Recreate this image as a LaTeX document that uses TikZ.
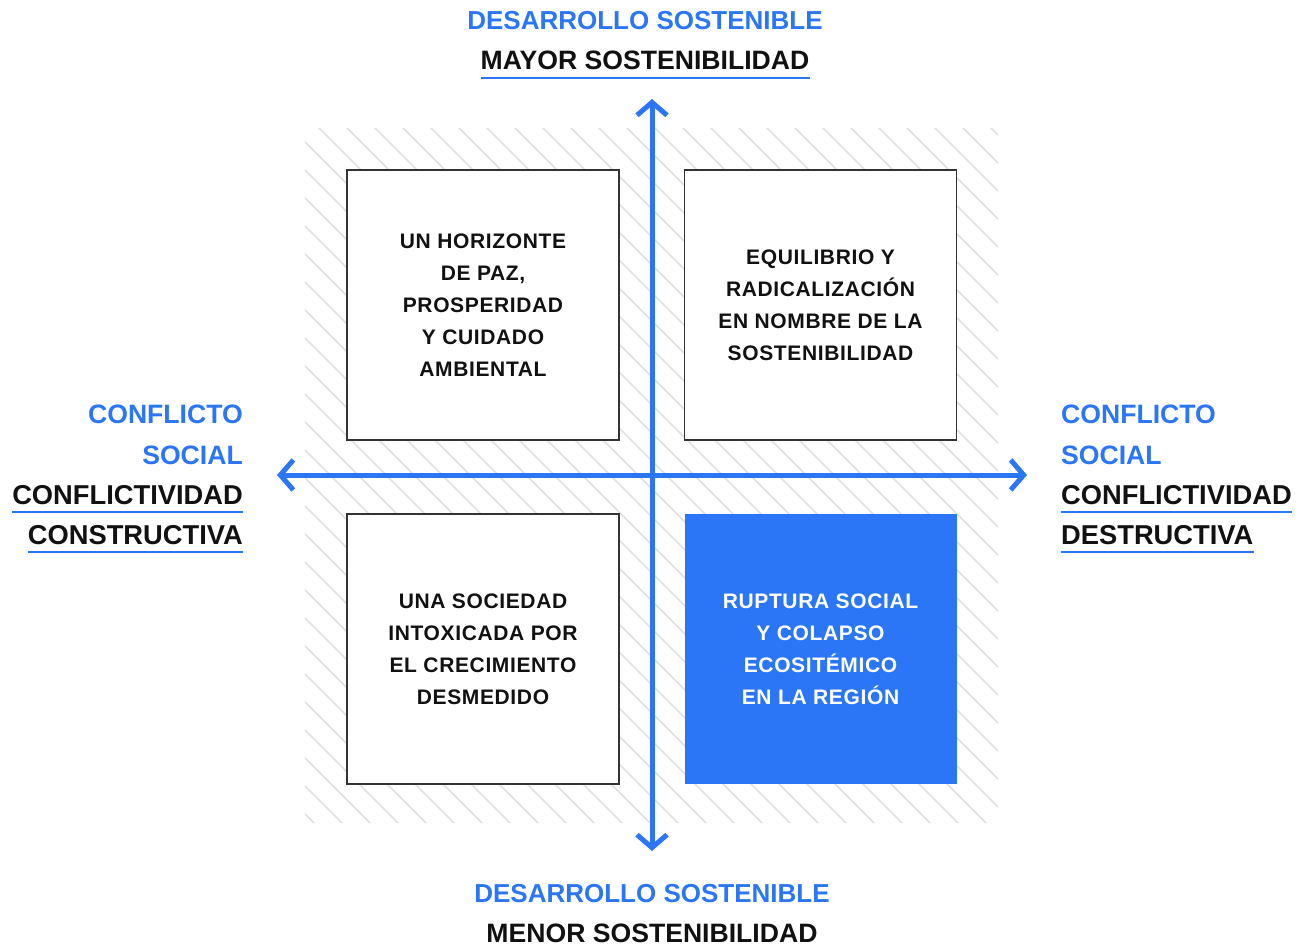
\documentclass[tikz,border=0pt]{standalone}
\usepackage{fontspec}
\setmainfont{Liberation Sans}
\usetikzlibrary{arrows.meta}
\definecolor{axblue}{RGB}{42,118,246}
\definecolor{hatchgray}{RGB}{224,224,224}
\definecolor{ink}{RGB}{17,17,17}
\definecolor{boxedge}{RGB}{51,51,51}
\begin{document}
\begin{tikzpicture}[x=1pt,y=-1pt,
  axisline/.style={draw=axblue,line width=5pt,line join=miter,
    {Straight Barb[length=13pt,width=30pt]}-{Straight Barb[length=13pt,width=30pt]}},
  hatchline/.style={draw=hatchgray,line width=1.5pt},
  quad/.style={draw=boxedge,line width=1.5pt,fill=white,minimum width=272pt,minimum height=270pt,
    inner sep=0pt,align=center,text=ink,font=\bfseries\fontsize{21}{32}\selectfont\addfontfeatures{LetterSpace=3}},
  quadblue/.style={quad,draw=none,fill=axblue,text=white},
  bluelbl/.style={inner sep=0pt,text=axblue,font=\bfseries\fontsize{26}{30}\selectfont},
  blacklbl/.style={inner sep=0pt,text=ink,font=\bfseries\fontsize{26.6}{30}\selectfont},
  sideblue/.style={bluelbl,font=\bfseries\fontsize{26.6}{30}\selectfont},
  sideblack/.style={blacklbl,font=\bfseries\fontsize{27.3}{30}\selectfont},
  uline/.style={draw=axblue,line width=1.3pt}
]
\useasboundingbox (0,0) rectangle (1307,947);
% hatching
\begin{scope}
  \clip (305,129) rectangle (998,822);
  \foreach \k in {-30,...,30} {
    \draw[hatchline] (120+28*\k,-71) -- ++(1000,1000);
  }
\end{scope}
% axes
\coordinate (vtop) at (652,99);
\coordinate (vbot) at (652,851);
\coordinate (hleft) at (277,475);
\coordinate (hright) at (1027,475);
\draw[axisline] (vbot) -- (vtop);
\draw[axisline] (hleft) -- (hright);
% quadrants
\node[quad] (tl) at (483,305) {UN HORIZONTE\\DE PAZ,\\PROSPERIDAD\\Y CUIDADO\\AMBIENTAL};
\node[quad] (tr) at (820.5,305) {EQUILIBRIO Y\\RADICALIZACIÓN\\EN NOMBRE DE LA\\SOSTENIBILIDAD};
\node[quad] (bl) at (483,649) {UNA SOCIEDAD\\INTOXICADA POR\\EL CRECIMIENTO\\DESMEDIDO};
\node[quadblue] (br) at (820.5,649) {RUPTURA SOCIAL\\Y COLAPSO\\ECOSITÉMICO\\EN LA REGIÓN};
% top labels
\node[bluelbl,anchor=base] (t1) at (645,30) {DESARROLLO SOSTENIBLE};
\node[blacklbl,anchor=base] (t2) at (645,70) {MAYOR SOSTENIBILIDAD};
\draw[uline] ([yshift=-8pt]t2.base west) -- ([yshift=-8pt]t2.base east);
% bottom labels
\node[bluelbl,anchor=base] (b1) at (652,902) {DESARROLLO SOSTENIBLE};
\node[blacklbl,anchor=base] (b2) at (652,942) {MENOR SOSTENIBILIDAD};
% left labels
\node[sideblue,anchor=base east] (l1) at (243,423) {CONFLICTO};
\node[sideblue,anchor=base east] (l2) at (243,464) {SOCIAL};
\node[sideblack,anchor=base east] (l3) at (243,504) {CONFLICTIVIDAD};
\node[sideblack,anchor=base east] (l4) at (243,544) {CONSTRUCTIVA};
\draw[uline] ([yshift=-8pt]l3.base west) -- ([yshift=-8pt]l3.base east);
\draw[uline] ([yshift=-8pt]l4.base west) -- ([yshift=-8pt]l4.base east);
% right labels
\node[sideblue,anchor=base west] (r1) at (1061,423) {CONFLICTO};
\node[sideblue,anchor=base west] (r2) at (1061,464) {SOCIAL};
\node[sideblack,anchor=base west] (r3) at (1061,504) {CONFLICTIVIDAD};
\node[sideblack,anchor=base west] (r4) at (1061,544) {DESTRUCTIVA};
\draw[uline] ([yshift=-8pt]r3.base west) -- ([yshift=-8pt]r3.base east);
\draw[uline] ([yshift=-8pt]r4.base west) -- ([yshift=-8pt]r4.base east);
\end{tikzpicture}
\end{document}
